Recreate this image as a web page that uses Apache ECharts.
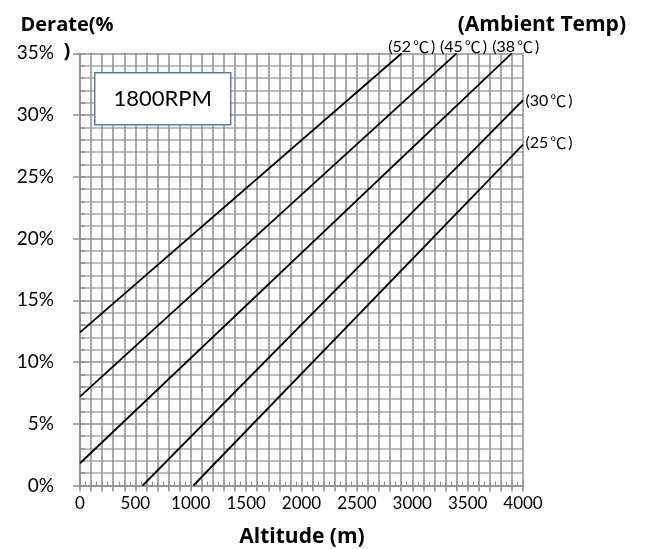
<!DOCTYPE html>
<html><head><meta charset="utf-8">
<script src="https://cdn.jsdelivr.net/npm/echarts@6/dist/echarts.min.js"></script>
<style>html,body{margin:0;padding:0;background:#fff}#c{width:646px;height:549px}</style>
</head><body><div id="c"></div>
<script>
// Data
const tempValues = ['52', '45', '38', '30', '25'];
const startAltitude = [0, 0, 0, 566, 1024];
const startDerate = [12.4, 7.2, 1.8, 0, 0];
const endAltitude = [2905, 3400, 3898, 4000, 4000];
const endDerate = [35, 35, 35, 31.2, 27.6];
const xTickLabels = [0, 500, 1000, 1500, 2000, 2500, 3000, 3500, 4000];
const yTickLabels = [0, 5, 10, 15, 20, 25, 30, 35];
const labelOffsets = [[10, -6], [7, -6], [4, -6], [26, 1], [26, -2]];

const FONT = "Lato, 'Noto Sans CJK SC', sans-serif";
const CJK = "'Noto Sans CJK SC', 'Noto Sans CJK JP', sans-serif";
const BOLD = "'Open Sans', sans-serif";
const GRID_V = '#8e8e8e', GRID_H = '#a9a9a9';

const chart = echarts.init(document.getElementById('c'), null, {renderer: 'canvas'});

const series = tempValues.map((t, i) => ({
  type: 'line', xAxisIndex: 0, yAxisIndex: 0,
  showSymbol: true, symbol: 'circle', symbolSize: 0,
  lineStyle: {color: '#000', width: 1.8},
  itemStyle: {color: '#000'},
  silent: true, animation: false,
  data: [
    [startAltitude[i], startDerate[i]],
    {value: [endAltitude[i], endDerate[i]],
     label: {show: true, position: 'inside', offset: labelOffsets[i],
             formatter: () => '{p|(' + t + '}{deg|℃}{p|)}',
             rich: {p: {fontFamily: FONT, fontSize: 16, color: '#000'},
                    deg: {fontFamily: CJK, fontSize: 16, color: '#000', padding: [0, 2, 0, 2]}}}}
  ]
}));

chart.setOption({
  animation: false,
  grid: {left: 80, right: 123, top: 53.3, bottom: 63.5, containLabel: false},
  title: [
    {text: 'Derate(%\n)', left: 62, top: 7, textAlign: 'center',
     textStyle: {fontFamily: BOLD, fontWeight: 'bold', fontSize: 20, lineHeight: 26, color: '#000', align: 'center'}},
    {text: '(Ambient Temp)', right: 15, top: 7,
     textStyle: {fontFamily: BOLD, fontWeight: 'bold', fontSize: 21, lineHeight: 27, color: '#000'}},
    {text: 'Altitude (m)', left: 297, top: 519, textAlign: 'center',
     textStyle: {fontFamily: BOLD, fontWeight: 'bold', fontSize: 21, lineHeight: 27, color: '#000'}}
  ],
  xAxis: [
    {type: 'value', min: 0, max: 4000, interval: 100, position: 'bottom',
     axisLine: {show: true, lineStyle: {color: GRID_V, width: 1.5}},
     axisTick: {show: true, inside: false, length: 6, lineStyle: {color: GRID_V, width: 1.5}},
     splitLine: {show: true, lineStyle: {color: GRID_V, width: 1.5}},
     axisLabel: {show: true, margin: 10, color: '#000', fontSize: 17, fontFamily: FONT,
       formatter: v => xTickLabels.includes(v) ? String(v) : ''}},
    {type: 'value', min: 0, max: 4000, interval: 50, position: 'bottom',
     axisLine: {show: false},
     axisTick: {show: true, inside: true, length: 4, lineStyle: {color: GRID_V, width: 1}},
     splitLine: {show: false}, axisLabel: {show: false}}
  ],
  yAxis: [
    {type: 'value', min: 0, max: 35, interval: 5, position: 'left',
     axisLine: {show: true, lineStyle: {color: GRID_V, width: 1.5}},
     axisTick: {show: true, inside: false, length: 7, lineStyle: {color: GRID_V, width: 1.5}},
     splitLine: {show: true, lineStyle: {color: GRID_H, width: 1.5}},
     axisLabel: {show: true, margin: 26, color: '#000', fontSize: 19, fontFamily: FONT,
       formatter: v => yTickLabels.includes(v) ? v + '%' : ''}},
    {type: 'value', min: 0, max: 35, interval: 1, position: 'left',
     axisLine: {show: false},
     axisTick: {show: true, inside: true, length: 5, lineStyle: {color: GRID_V, width: 1.5}},
     splitLine: {show: true, lineStyle: {color: GRID_H, width: 1.5}},
     axisLabel: {show: false}}
  ],
  graphic: [
    {type: 'group', left: 94, top: 72, z: 100, children: [
      {type: 'rect', z: 100, shape: {x: 0, y: 0, width: 136, height: 52},
       style: {fill: '#fff', stroke: '#4f81bd', lineWidth: 1.5}},
      {type: 'text', z: 101, x: 68, y: 26,
       style: {text: '1800RPM', font: "22px Lato, sans-serif", fill: '#000', align: 'center', verticalAlign: 'middle'}}
    ]}
  ],
  series: series
});
</script></body></html>
